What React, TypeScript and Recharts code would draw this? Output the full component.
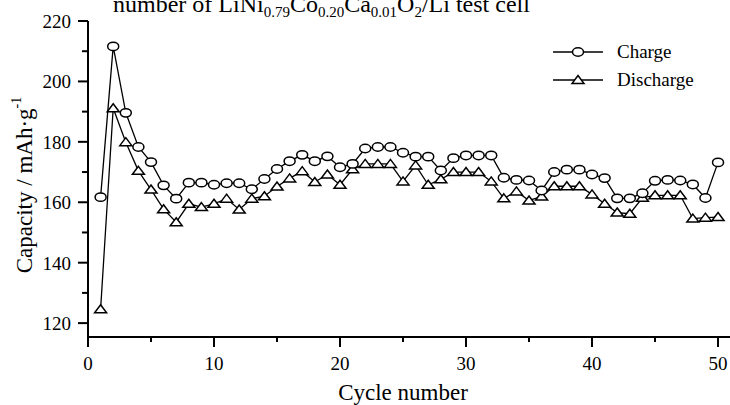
import React from 'react';
import { LineChart, Line, XAxis, YAxis } from 'recharts';

const cycles = Array.from({ length: 50 }, (_, i) => i + 1);
const charge = [
  161.7, 211.6, 189.6, 178.3, 173.3, 165.6, 161.2, 166.5, 166.5, 165.8,
  166.3, 166.3, 164.3, 167.7, 171.0, 173.6, 175.7, 173.6, 175.2, 171.6,
  172.7, 177.8, 178.3, 178.3, 176.4, 175.1, 175.1, 170.5, 174.6, 175.5,
  175.5, 175.5, 168.1, 167.4, 167.2, 163.9, 170.0, 170.8, 170.8, 169.2,
  168.0, 161.3, 161.3, 163.0, 167.1, 167.4, 167.2, 165.9, 161.4, 173.2,
];
const discharge = [
  124.6, 191.1, 179.9, 170.4, 164.2, 157.7, 153.4, 159.5, 158.4, 159.5,
  161.2, 157.6, 161.2, 162.0, 165.2, 167.9, 170.3, 166.7, 169.2, 165.8,
  170.9, 172.7, 172.7, 172.7, 166.9, 172.2, 165.8, 167.6, 170.0, 170.0,
  170.0, 166.9, 161.3, 163.6, 160.6, 161.9, 165.3, 165.3, 165.3, 162.6,
  159.5, 156.6, 156.2, 161.5, 162.3, 162.3, 162.3, 154.6, 154.9, 155.1,
];
const xTicks = [0, 5, 10, 15, 20, 25, 30, 35, 40, 45, 50];
const yTicks = [120, 130, 140, 150, 160, 170, 180, 190, 200, 210, 220];

const data = cycles.map((c, i) => ({ cycle: c, charge: charge[i], discharge: discharge[i] }));

const FONT = '"Liberation Serif", "Times New Roman", Times, serif';
const txt = { fontFamily: FONT, fill: '#000' };

const Circle = (props: any) => {
  const { cx, cy, key } = props;
  if (cx == null || cy == null) return null;
  return <ellipse key={key} cx={cx} cy={cy} rx={5.5} ry={4.2} fill="#fff" stroke="#000" strokeWidth={1.5} />;
};

const Tri = (props: any) => {
  const { cx, cy, key } = props;
  if (cx == null || cy == null) return null;
  return (
    <polygon
      key={key}
      points={`${cx},${cy - 4.5} ${cx + 6},${cy + 3.5} ${cx - 6},${cy + 3.5}`}
      fill="#fff"
      stroke="#000"
      strokeWidth={1.5}
    />
  );
};

const XTick = (props: any) => {
  const { x, y, payload } = props;
  const major = payload.value % 10 === 0;
  return (
    <g>
      <line x1={x} x2={x} y1={y} y2={y + (major ? 10 : 5)} stroke="#000" strokeWidth={2} />
      {major && (
        <text x={x} y={y + 33} textAnchor="middle" fontSize={19} style={txt}>
          {payload.value}
        </text>
      )}
    </g>
  );
};

const YTick = (props: any) => {
  const { x, y, payload } = props;
  const major = payload.value % 20 === 0;
  return (
    <g>
      <line x1={x - (major ? 10 : 6)} x2={x} y1={y} y2={y} stroke="#000" strokeWidth={2} />
      {major && (
        <text x={x - 17} y={y + 7} textAnchor="end" fontSize={19} style={txt}>
          {payload.value}
        </text>
      )}
    </g>
  );
};

const YTitle = () => (
  <text
    transform="translate(24,185) rotate(-90)"
    textAnchor="middle"
    dominantBaseline="central"
    fontSize={23}
    style={txt}
  >
    Capacity / mAh·g
    <tspan fontSize={14} dy={-8}>-1</tspan>
  </text>
);

const XTitle = () => (
  <text x={403} y={400} textAnchor="middle" fontSize={23} style={txt}>
    Cycle number
  </text>
);

export default function App() {
  return (
    <div style={{ position: 'absolute', left: 0, top: 0, width: 730, height: 405, background: '#fff' }}>
      <LineChart width={730} height={405} data={data} margin={{ top: 21, right: 0, bottom: 0, left: 0 }}>
        <XAxis
          dataKey="cycle"
          type="number"
          domain={[0, 50.95]}
          ticks={xTicks}
          interval={0}
          tickSize={0}
          tickMargin={0}
          tickLine={false}
          tick={<XTick />}
          height={68}
          stroke="#000"
          strokeWidth={2}
          allowDataOverflow
          label={<XTitle />}
        />
        <YAxis
          type="number"
          domain={[115.4, 220]}
          ticks={yTicks}
          interval={0}
          tickSize={0}
          tickMargin={0}
          tickLine={false}
          tick={<YTick />}
          width={88}
          stroke="#000"
          strokeWidth={2}
          allowDataOverflow
          label={<YTitle />}
        />
        <Line
          type="linear"
          dataKey="discharge"
          name="Discharge"
          stroke="#000"
          strokeWidth={1.3}
          dot={Tri}
          isAnimationActive={false}
        />
        <Line
          type="linear"
          dataKey="charge"
          name="Charge"
          stroke="#000"
          strokeWidth={1.3}
          dot={Circle}
          isAnimationActive={false}
        />
      </LineChart>
      <svg width={730} height={30} style={{ position: 'absolute', left: 0, top: 0 }}>
        <text x={113} y={12} fontSize={24} style={txt}>
          number of LiNi
          <tspan fontSize={15} dy={4.5}>0.79</tspan>
          <tspan dy={-4.5}>Co</tspan>
          <tspan fontSize={15} dy={4.5}>0.20</tspan>
          <tspan dy={-4.5}>Ca</tspan>
          <tspan fontSize={15} dy={4.5}>0.01</tspan>
          <tspan dy={-4.5}>O</tspan>
          <tspan fontSize={15} dy={4.5}>2</tspan>
          <tspan dy={-4.5}>/Li test cell</tspan>
        </text>
      </svg>
      <svg width={170} height={60} style={{ position: 'absolute', left: 550, top: 36 }}>
        <line x1={3} x2={53} y1={16} y2={16} stroke="#000" strokeWidth={1.3} />
        <ellipse cx={28} cy={16} rx={5.5} ry={4.2} fill="#fff" stroke="#000" strokeWidth={1.5} />
        <text x={67} y={22} fontSize={19} style={txt}>Charge</text>
        <line x1={3} x2={53} y1={44} y2={44} stroke="#000" strokeWidth={1.3} />
        <polygon points="28,39.5 34,47.5 22,47.5" fill="#fff" stroke="#000" strokeWidth={1.5} />
        <text x={67} y={50} fontSize={19} style={txt}>Discharge</text>
      </svg>
    </div>
  );
}
